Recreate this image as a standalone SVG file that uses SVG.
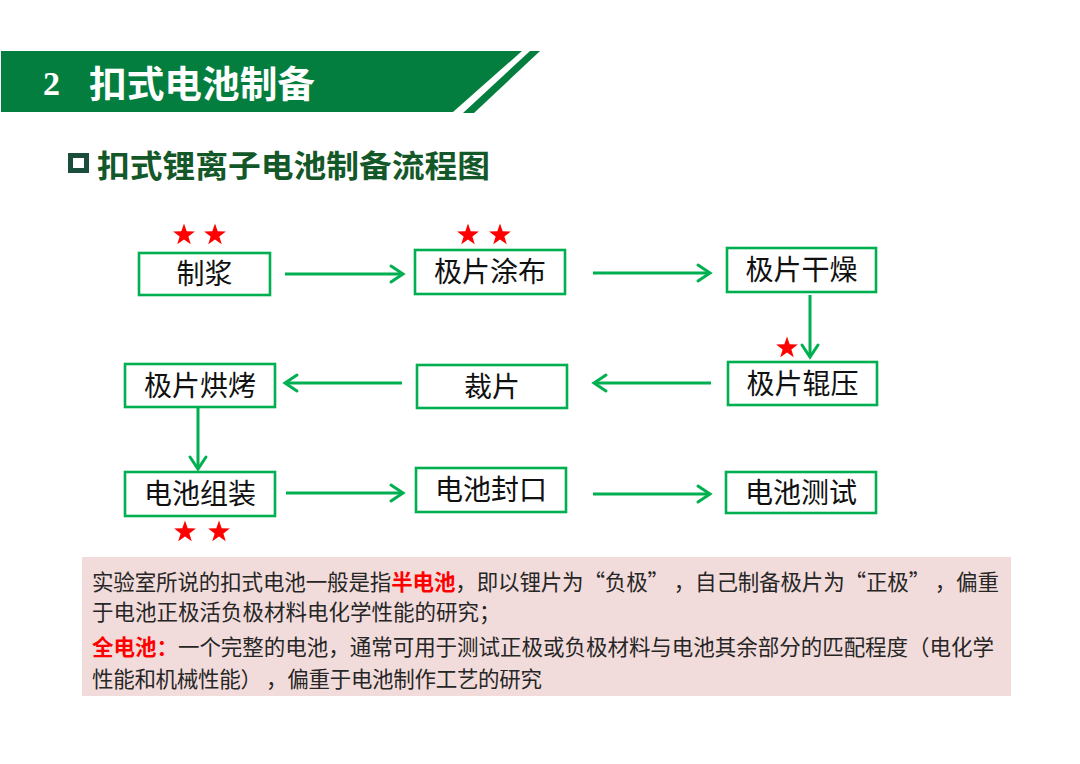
<svg xmlns="http://www.w3.org/2000/svg" width="1080" height="764" viewBox="0 0 1080 764">
<style>
.node rect{fill:#fff;stroke:#00b050;stroke-width:2.6}
.node text{font-family:"Noto Sans CJK SC","Microsoft YaHei",sans-serif;font-size:28px;fill:#111;text-anchor:middle}
.conn line{stroke:#00b050;stroke-width:3;fill:none}
.star{fill:#ff0000}
.note{font-family:"Noto Sans CJK SC",sans-serif;font-size:21.5px;fill:#262626}
.red{fill:#ff0000;font-weight:bold}
</style>
<defs>
<marker id="arr" markerUnits="userSpaceOnUse" markerWidth="30" markerHeight="30" refX="15" refY="15" orient="auto" viewBox="0 0 30 30">
<path d="M3,7 L15,15 L3,23" fill="none" stroke="#00b050" stroke-width="3" stroke-linecap="round" stroke-linejoin="miter"/>
</marker>
<polygon id="star" points="0,-11.5 2.7,-3.7 10.9,-3.55 4.37,1.42 6.76,9.3 0,4.6 -6.76,9.3 -4.37,1.42 -10.9,-3.55 -2.7,-3.7"/>
</defs>
<rect width="1080" height="764" fill="#fff"/>
<g id="header">
<polygon points="1,51 522,51 453,112 1,112" fill="#047e3e"/>
<polygon points="530,51 540,51 474,113 463,113" fill="#047e3e"/>
<text x="43" y="95" font-family="Liberation Serif,serif" font-weight="bold" font-size="34" fill="#fff">2</text>
<text x="89" y="98" font-family="Noto Sans CJK SC,sans-serif" font-weight="bold" font-size="37" fill="#fff" textLength="226" lengthAdjust="spacingAndGlyphs">扣式电池制备</text>
</g>
<g id="subtitle">
<rect x="70.5" y="155.5" width="16" height="15" fill="none" stroke="#1b4d3b" stroke-width="5"/>
<text x="97" y="177" font-family="Noto Sans CJK SC,sans-serif" font-weight="bold" font-size="31" fill="#14582a" textLength="393" lengthAdjust="spacingAndGlyphs">扣式锂离子电池制备流程图</text>
</g>
<g class="conn" id="connectors">
<line x1="285" y1="274" x2="403" y2="274" marker-end="url(#arr)"/>
<line x1="593" y1="273" x2="710" y2="273" marker-end="url(#arr)"/>
<line x1="810" y1="295" x2="810" y2="357" marker-end="url(#arr)"/>
<line x1="711" y1="383" x2="594" y2="383" marker-end="url(#arr)"/>
<line x1="402" y1="383" x2="285" y2="383" marker-end="url(#arr)"/>
<line x1="198" y1="408" x2="198" y2="469" marker-end="url(#arr)"/>
<line x1="286" y1="493" x2="403" y2="493" marker-end="url(#arr)"/>
<line x1="593" y1="494" x2="710" y2="494" marker-end="url(#arr)"/>
</g>
<g id="n1" class="node"><rect x="139" y="253" width="131" height="42"/><text x="204.5" y="284">制浆</text></g>
<g id="n2" class="node"><rect x="415" y="250" width="150" height="44"/><text x="490" y="282">极片涂布</text></g>
<g id="n3" class="node"><rect x="727" y="248" width="149" height="44"/><text x="801.5" y="280">极片干燥</text></g>
<g id="n4" class="node"><rect x="728" y="362" width="149" height="43"/><text x="802.5" y="393.5">极片辊压</text></g>
<g id="n5" class="node"><rect x="417" y="365" width="150" height="43"/><text x="492" y="396.5">裁片</text></g>
<g id="n6" class="node"><rect x="125" y="364" width="150" height="43"/><text x="200" y="395.5">极片烘烤</text></g>
<g id="n7" class="node"><rect x="125" y="472" width="150" height="44"/><text x="200" y="504">电池组装</text></g>
<g id="n8" class="node"><rect x="416" y="468" width="150" height="44"/><text x="491" y="500">电池封口</text></g>
<g id="n9" class="node"><rect x="726" y="472" width="150" height="41"/><text x="801" y="502.5">电池测试</text></g>
<g id="stars" class="star">
<use href="#star" x="184" y="235"/>
<use href="#star" x="215" y="235"/>
<use href="#star" x="468" y="235"/>
<use href="#star" x="500" y="235"/>
<use href="#star" x="787" y="348"/>
<use href="#star" x="185" y="532"/>
<use href="#star" x="219" y="532"/>
</g>
<g id="note">
<rect x="82" y="557" width="929" height="139" fill="#f2dcdb"/>
<text class="note" x="92" y="590" textLength="907" lengthAdjust="spacing">实验室所说的扣式电池一般是指<tspan class="red">半电池</tspan>，即以锂片为“负极” ，自己制备极片为“正极” ，偏重</text>
<text class="note" x="92" y="620">于电池正极活负极材料电化学性能的研究；</text>
<text class="note" x="92" y="655" textLength="902" lengthAdjust="spacing"><tspan class="red">全电池：</tspan>一个完整的电池，通常可用于测试正极或负极材料与电池其余部分的匹配程度（电化学</text>
<text class="note" x="92" y="687" textLength="450" lengthAdjust="spacing">性能和机械性能） ，偏重于电池制作工艺的研究</text>
</g>
</svg>
